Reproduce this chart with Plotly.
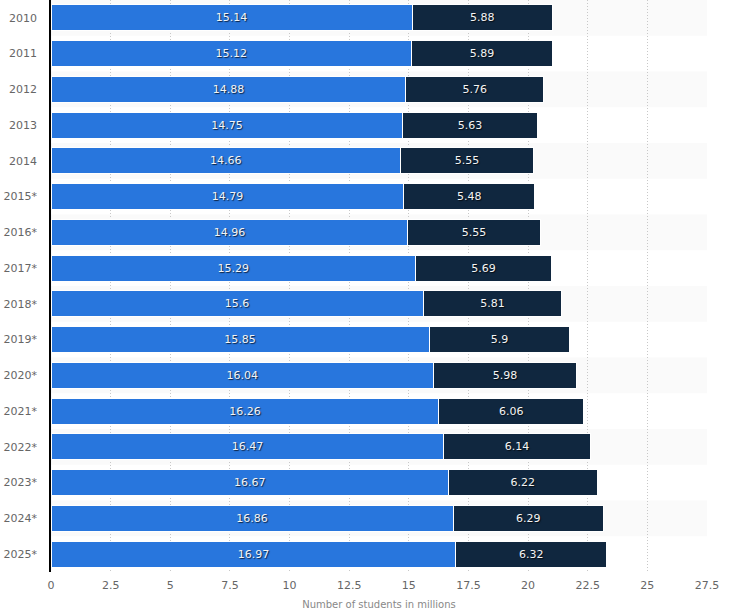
import plotly.graph_objects as go

years = ["2010", "2011", "2012", "2013", "2014", "2015*", "2016*", "2017*",
         "2018*", "2019*", "2020*", "2021*", "2022*", "2023*", "2024*", "2025*"]
series_a = [15.14, 15.12, 14.88, 14.75, 14.66, 14.79, 14.96, 15.29,
            15.6, 15.85, 16.04, 16.26, 16.47, 16.67, 16.86, 16.97]
series_b = [5.88, 5.89, 5.76, 5.63, 5.55, 5.48, 5.55, 5.69,
            5.81, 5.9, 5.98, 6.06, 6.14, 6.22, 6.29, 6.32]
x_ticks = [0, 2.5, 5, 7.5, 10, 12.5, 15, 17.5, 20, 22.5, 25, 27.5]
x_title = "Number of students in millions"

FONT = "DejaVu Sans"
txtfont = dict(family=FONT, size=11, color="#f4f4f4",
               shadow="1px 1px 1px rgba(0,0,0,0.7)")

fig = go.Figure()
for vals, color in ((series_a, "#2876dd"), (series_b, "#10273f")):
    fig.add_trace(go.Bar(
        y=years, x=vals, orientation="h",
        marker=dict(color=color, line=dict(color="white", width=1)),
        text=[str(v) for v in vals], textposition="inside",
        insidetextanchor="middle", textangle=0, textfont=txtfont,
        hoverinfo="x+y", showlegend=False,
    ))

shapes = []
for i in range(0, len(years), 2):
    shapes.append(dict(type="rect", xref="paper", yref="y", x0=0, x1=1,
                       y0=i - 0.5, y1=i + 0.5, fillcolor="#fafafa",
                       line=dict(width=0), layer="below"))

fig.update_layout(
    barmode="stack", bargap=0.27,
    width=734, height=616,
    margin=dict(l=51, r=27, t=0, b=44, autoexpand=False),
    plot_bgcolor="white", paper_bgcolor="white",
    shapes=shapes,
    font=dict(family=FONT, color="#666"),
)
fig.update_xaxes(
    range=[0, 27.5], tickvals=x_ticks, ticktext=[str(t) for t in x_ticks],
    showgrid=True, gridcolor="#c8c8c8", griddash="1px,2px", gridwidth=1,
    zeroline=False, showline=False, ticks="", automargin=False,
    ticklabelstandoff=5,
    tickfont=dict(family=FONT, size=11, color="#666"),
    title=dict(text=x_title, font=dict(family=FONT, size=10, color="#888"),
               standoff=9),
)
fig.update_yaxes(
    autorange="reversed", showgrid=False, zeroline=False, automargin=False,
    showline=True, linecolor="black", linewidth=1.5, ticks="",
    ticklabelstandoff=10,
    tickfont=dict(family=FONT, size=11, color="#666"),
)
fig.write_html("out.html",
               config={"displayModeBar": False},
               post_script="document.body.style.margin='0';"
                           "document.body.style.overflow='hidden';")
